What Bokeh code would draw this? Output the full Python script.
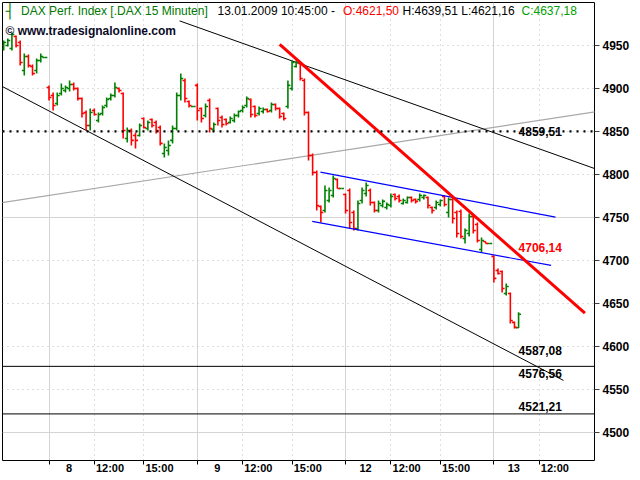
from bokeh.plotting import figure
from bokeh.models import (ColumnDataSource, FixedTicker, Range1d, Label, Span,
                          CustomJSTickFormatter)
from bokeh.embed import file_html
from bokeh.resources import INLINE

# ---------------- data (15-minute bars, DAX) ----------------
bar_index = list(range(-11, 115))

open_ = [4946.5, 4950.0, 4946.5, 4960.4, 4953.5, 4920.9, 4937.2, 4925.6, 4920.9, 4932.5, 4936.0,
         4901.1, 4891.8, 4882.5, 4894.1, 4897.6, 4899.9, 4904.6, 4899.9, 4888.3, 4872.0,
         4856.9, 4874.4, 4862.7, 4870.9, 4880.2, 4888.3, 4891.8, 4899.9, 4894.1, 4841.8,
         4851.1, 4845.3, 4845.3, 4865.0, 4853.4, 4863.9, 4860.4, 4854.6, 4824.3, 4827.8,
         4839.5, 4853.4, 4891.8, 4909.3, 4884.8, 4879.0,
         4903.5, 4876.7, 4868.5, 4886.0, 4852.3, 4876.7, 4866.2, 4863.9, 4860.4, 4862.7,
         4868.5, 4874.4, 4880.2, 4887.2, 4879.0, 4870.9, 4873.2, 4875.5, 4874.4, 4881.3,
         4876.7, 4870.9, 4879.0, 4899.9, 4925.6, 4929.1, 4909.3, 4872.0, 4822.0, 4802.2,
         4762.6, 4758.0, 4769.6, 4775.4, 4794.1, 4783.6,
         4776.6, 4781.3, 4755.6, 4737.0, 4769.6, 4777.8, 4781.3, 4767.3, 4758.0, 4763.8,
         4761.5, 4763.8, 4776.6, 4774.3, 4766.1, 4767.3, 4773.1, 4770.8, 4770.8, 4773.1,
         4773.1, 4761.5, 4761.5, 4765.0, 4774.3, 4755.6, 4770.8, 4755.6, 4756.8, 4725.4,
         4731.2, 4751.0, 4741.7, 4712.6, 4721.9, 4719.6,
         4704.5, 4688.2, 4687.0, 4661.4, 4661.4, 4627.7, 4621.50]

high_ = [4955.8, 4958.1, 4965.1, 4961.6, 4955.8, 4940.7, 4939.5, 4927.9, 4934.9, 4940.7, 4936.0,
         4903.5, 4895.3, 4895.3, 4905.8, 4903.5, 4909.3, 4907.0, 4901.1, 4889.5, 4874.4,
         4876.7, 4876.7, 4872.0, 4880.2, 4889.5, 4894.1, 4907.0, 4901.1, 4895.3, 4854.6,
         4853.4, 4848.8, 4859.2, 4866.2, 4862.7, 4865.0, 4862.7, 4856.9, 4836.0, 4839.5,
         4856.9, 4895.3, 4917.4, 4911.6, 4886.0, 4879.0,
         4905.8, 4877.8, 4882.5, 4888.3, 4860.4, 4877.8, 4868.5, 4865.0, 4867.4, 4870.9,
         4874.4, 4880.2, 4890.7, 4888.3, 4880.2, 4879.0, 4877.8, 4876.7, 4883.7, 4882.5,
         4877.8, 4872.0, 4909.3, 4932.5, 4932.5, 4930.2, 4911.6, 4873.2, 4824.3, 4804.5,
         4763.8, 4787.1, 4784.8, 4798.7, 4795.2, 4783.6,
         4777.8, 4783.6, 4758.0, 4769.6, 4784.8, 4790.6, 4783.6, 4768.5, 4769.6, 4770.8,
         4767.3, 4777.8, 4777.8, 4776.6, 4771.9, 4774.3, 4774.3, 4771.9, 4777.8, 4776.6,
         4774.3, 4762.6, 4769.6, 4770.8, 4775.4, 4773.1, 4773.1, 4758.0, 4759.1, 4737.0,
         4754.5, 4752.2, 4744.0, 4726.6, 4721.9, 4719.6,
         4705.6, 4690.5, 4688.2, 4673.0, 4662.6, 4628.8, 4639.51]

low_ = [4944.2, 4948.8, 4944.2, 4947.7, 4926.7, 4915.1, 4924.4, 4915.1, 4917.4, 4930.2, 4936.0,
        4886.0, 4874.4, 4880.2, 4891.8, 4895.3, 4896.5, 4897.6, 4886.0, 4866.2, 4851.1,
        4851.1, 4868.5, 4860.4, 4868.5, 4877.8, 4886.0, 4889.5, 4895.3, 4841.8, 4837.1,
        4833.6, 4830.1, 4844.1, 4853.4, 4851.1, 4854.6, 4847.6, 4833.6, 4819.7, 4822.0,
        4836.0, 4851.1, 4886.0, 4883.7, 4877.8, 4879.0,
        4862.7, 4860.4, 4866.2, 4848.8, 4849.9, 4856.9, 4854.6, 4856.9, 4859.2, 4860.4,
        4866.2, 4872.0, 4877.8, 4866.2, 4866.2, 4868.5, 4870.9, 4872.0, 4872.0, 4874.4,
        4865.0, 4862.7, 4876.7, 4897.6, 4924.4, 4909.3, 4868.5, 4816.2, 4798.7, 4758.0,
        4744.0, 4755.6, 4767.3, 4773.1, 4783.6, 4783.6,
        4754.5, 4737.0, 4734.7, 4734.7, 4766.1, 4774.3, 4763.8, 4755.6, 4755.6, 4761.5,
        4759.1, 4761.5, 4769.6, 4767.3, 4765.0, 4766.1, 4767.3, 4766.1, 4768.5, 4770.8,
        4760.3, 4754.5, 4759.1, 4762.6, 4762.6, 4749.8, 4742.9, 4726.6, 4725.4, 4719.6,
        4727.7, 4731.2, 4720.8, 4709.1, 4719.6, 4719.6,
        4674.2, 4683.5, 4662.6, 4659.1, 4626.5, 4620.7, 4621.16]

close_ = [4953.5, 4955.8, 4962.8, 4950.0, 4930.2, 4937.2, 4926.7, 4917.4, 4932.5, 4937.2, 4936.0,
          4889.5, 4880.2, 4891.8, 4899.9, 4901.1, 4904.6, 4899.9, 4888.3, 4870.9, 4856.9,
          4872.0, 4869.7, 4869.7, 4877.8, 4887.2, 4891.8, 4901.1, 4897.6, 4851.1, 4851.1,
          4839.5, 4839.5, 4856.9, 4854.6, 4860.4, 4856.9, 4851.1, 4836.0, 4831.3, 4833.6,
          4853.4, 4891.8, 4911.6, 4888.3, 4880.2, 4879.0,
          4874.4, 4865.0, 4879.0, 4853.4, 4858.1, 4862.7, 4858.1, 4859.2, 4865.0, 4868.5,
          4873.2, 4877.8, 4888.3, 4869.7, 4868.5, 4876.7, 4875.5, 4873.2, 4881.3, 4876.7,
          4867.4, 4865.0, 4903.5, 4930.2, 4930.2, 4911.6, 4872.0, 4822.0, 4802.2, 4763.8,
          4755.6, 4781.3, 4781.3, 4795.2, 4783.6, 4783.6,
          4758.0, 4744.0, 4737.0, 4766.1, 4781.3, 4787.1, 4767.3, 4758.0, 4766.1, 4768.5,
          4765.0, 4774.3, 4771.9, 4769.6, 4769.6, 4773.1, 4769.6, 4768.5, 4775.4, 4775.4,
          4763.8, 4758.0, 4767.3, 4769.6, 4765.0, 4770.8, 4748.7, 4731.2, 4727.7, 4734.7,
          4751.0, 4734.7, 4723.1, 4723.1, 4719.6, 4719.6,
          4678.9, 4684.7, 4667.2, 4669.5, 4630.0, 4621.9, 4637.18]

# x-axis: bar index of each tick and its label
tick_pos = [0, 11, 23, 36, 47, 59, 72, 83, 95, 108, 119]
tick_text = ["8", "12:00", "15:00", "9", "12:00", "15:00", "12", "12:00", "15:00", "13", "12:00"]
day_starts = [0, 36, 72, 108]
y_ticks = [4500, 4550, 4600, 4650, 4700, 4750, 4800, 4850, 4900, 4950]
y_major_grid = [4500, 4750]

# drawn trend lines (bar index, price)
upper_black_x = [31.7, 140.0]
upper_black_y = [4978.6, 4793.9]
lower_black_x = [-14.0, 124.9]
lower_black_y = [4908.9, 4560.2]
gray_x = [-14.0, 140.0]
gray_y = [4765.3, 4878.1]
red_x = [56.0, 130.1]
red_y = [4951.2, 4638.5]
blue_up_x = [65.9, 122.96]
blue_up_y = [4802.6, 4750.2]
blue_lo_x = [63.9, 121.9]
blue_lo_y = [4745.2, 4694.0]

dotted_level = [4850.0]
solid_levels = [4576.56, 4521.21]

level_values = [4859.51, 4706.14, 4587.08, 4576.56, 4521.21]
level_colors = ["black", "#FF0000", "black", "black", "black"]
level_shift_px = [-8, 8, 7, -7, 7]

# ---------------- layout ----------------
W, H = 640, 480
X0, X1 = -11.29, 132.43
Y0, Y1 = 4467.0, 5000.0
BL, BR, BT, BB = 2, 46, 2, 20
FRAME_W = W - BL - BR
FRAME_H = H - BT - BB
PX_PER_BAR = FRAME_W / (X1 - X0)
PX_PER_PT = FRAME_H / (Y1 - Y0)


def scr_x(px):
    return X0 + (px - BL) / PX_PER_BAR


def scr_y(py):
    return Y1 - (py - BT) / PX_PER_PT


FONT = "Liberation Sans"
GREEN = "#008000"
RED = "#FF0000"

p = figure(width=W, height=H, x_range=Range1d(X0, X1), y_range=Range1d(Y0, Y1),
           output_backend="svg", toolbar_location=None, y_axis_location="right",
           min_border_left=BL, min_border_right=BR, min_border_top=BT, min_border_bottom=BB,
           background_fill_color="white", border_fill_color="white")
p.outline_line_color = "black"
p.outline_line_width = 1

# grids
p.xgrid.ticker = FixedTicker(ticks=day_starts,
                             minor_ticks=[t for t in tick_pos if t not in day_starts])
p.xgrid.grid_line_color = "#D4D4D4"
p.xgrid.grid_line_width = 1
p.xgrid.minor_grid_line_color = "#BDBDBD"
p.xgrid.minor_grid_line_dash = "1 4"
p.ygrid.ticker = FixedTicker(ticks=y_major_grid,
                             minor_ticks=[t for t in y_ticks if t not in y_major_grid])
p.ygrid.grid_line_color = "#D4D4D4"
p.ygrid.grid_line_width = 1
p.ygrid.minor_grid_line_color = "#BDBDBD"
p.ygrid.minor_grid_line_dash = "1 4"

# y axis (right)
yax = p.yaxis[0]
yax.ticker = FixedTicker(ticks=y_ticks)
yax.axis_line_color = None
yax.major_tick_in = 0
yax.major_tick_out = 5
yax.major_tick_line_color = "#404040"
yax.minor_tick_line_color = None
yax.major_label_standoff = 3
yax.major_label_text_font = FONT
yax.major_label_text_font_style = "bold"
yax.major_label_text_font_size = "12px"
yax.major_label_text_color = "black"

# x axis: labels sit to the right of their tick marks
label_pos = [t + (20.0 if txt.isdigit() else 15.7) / PX_PER_BAR
             for t, txt in zip(tick_pos, tick_text)]
xax = p.xaxis[0]
xax.ticker = FixedTicker(ticks=label_pos, minor_ticks=tick_pos)
xax.formatter = CustomJSTickFormatter(args=dict(pos=label_pos, txt=tick_text), code="""
    const j = pos.findIndex((q) => Math.abs(q - tick) < 1e-6);
    return j >= 0 ? txt[j] : "";
""")
xax.axis_line_color = None
xax.major_tick_in = 0
xax.major_tick_out = 0
xax.minor_tick_in = 0
xax.minor_tick_out = 4
xax.minor_tick_line_color = "black"
xax.major_label_standoff = -3
xax.major_label_text_font = FONT
xax.major_label_text_font_style = "bold"
xax.major_label_text_font_size = "11px"
xax.major_label_text_color = "black"

# trend lines
p.line(gray_x, gray_y, line_color="#A8A8A8", line_width=1.2)
p.line(upper_black_x, upper_black_y, line_color="black", line_width=1)
p.line(lower_black_x, lower_black_y, line_color="black", line_width=1)
for lv in dotted_level:
    p.add_layout(Span(location=lv, dimension="width", line_color="black",
                      line_width=2.2, line_dash="2 5"))
for lv in solid_levels:
    p.add_layout(Span(location=lv, dimension="width", line_color="black", line_width=1))

# OHLC bars
colors = [GREEN if c >= o else RED for o, c in zip(open_, close_)]
tick_half = 0.6
src = ColumnDataSource(dict(
    x=bar_index, o=open_, h=high_, l=low_, c=close_, col=colors,
    xl=[x - tick_half for x in bar_index], xr=[x + tick_half for x in bar_index]))
p.segment(x0="x", y0="l", x1="x", y1="h", line_color="col", line_width=1.6, source=src)
p.segment(x0="xl", y0="o", x1="x", y1="o", line_color="col", line_width=1.6, source=src)
p.segment(x0="x", y0="c", x1="xr", y1="c", line_color="col", line_width=1.6, source=src)

# channel and red trend line
p.line(blue_up_x, blue_up_y, line_color="#0000FF", line_width=1.2)
p.line(blue_lo_x, blue_lo_y, line_color="#0000FF", line_width=1.2)
p.line(red_x, red_y, line_color=RED, line_width=3)


def fmt(v):
    return f"{v:.2f}".replace(".", ",")


# value labels
last_x = bar_index[-1]
for v, col, sh in zip(level_values, level_colors, level_shift_px):
    p.add_layout(Label(x=last_x, y=v + sh / PX_PER_PT, text=fmt(v), text_color=col,
                       text_font=FONT, text_font_style="bold", text_font_size="12px",
                       text_align="left", text_baseline="middle"))

# header line
title_parts = ["DAX Perf. Index [.DAX  15 Minuten]", "13.01.2009 10:45:00 -",
               "O:" + fmt(open_[-1]), "H:" + fmt(high_[-1]) + " L:" + fmt(low_[-1]),
               "C:" + fmt(close_[-1])]
title_colors = ["#007800", "black", RED, "black", "#00A000"]
title_px = [20.5, 217, 342.5, 402, 521]
TY = scr_y(10.5)
p.add_layout(Label(x=scr_x(5), y=TY, text="┤", text_color="#007800",
                   text_font="DejaVu Sans", text_font_size="14px",
                   text_align="left", text_baseline="middle"))
for txt, col, px in zip(title_parts, title_colors, title_px):
    p.add_layout(Label(x=scr_x(px), y=TY, text=txt, text_color=col, text_font=FONT,
                       text_font_size="12px", text_align="left", text_baseline="middle"))

p.add_layout(Label(x=scr_x(5), y=scr_y(30), text="© www.tradesignalonline.com",
                   text_color="#0A0A28", text_font=FONT, text_font_style="bold",
                   text_font_size="12px", text_align="left", text_baseline="middle"))

p.add_layout(Label(x=scr_x(617), y=scr_y(10.5), text="€", text_color="black",
                   text_font=FONT, text_font_size="12px",
                   text_align="left", text_baseline="middle"))

open("out.html", "w").write(file_html(p, INLINE))
